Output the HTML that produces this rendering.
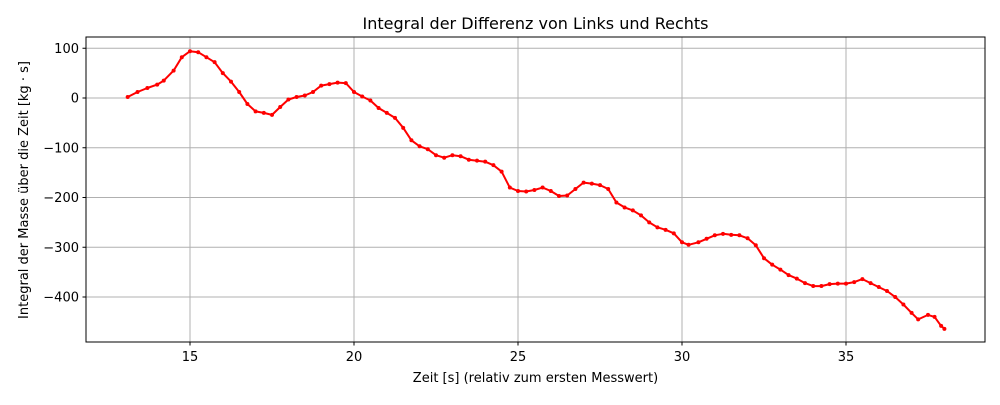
<!DOCTYPE html>
<html><head><meta charset="utf-8"><style>
body{margin:0;background:#fff}
svg text{font-family:"DejaVu Sans","Liberation Sans",sans-serif;fill:#000}
</style></head><body>
<svg id="chart" width="1000" height="400" xmlns="http://www.w3.org/2000/svg">
<rect width="1000" height="400" fill="#fff"/>
<g id="grid"></g>
<g id="series"></g>
<rect x="86" y="37" width="899" height="305" fill="none" stroke="#000" stroke-width="1"/>
<g id="xticks"></g>
<g id="yticks"></g>
<text x="535.5" y="29" font-size="16" text-anchor="middle">Integral der Differenz von Links und Rechts</text>
<text x="535.5" y="382" font-size="13" text-anchor="middle">Zeit [s] (relativ zum ersten Messwert)</text>
<text transform="translate(28,190) rotate(-90)" font-size="13" text-anchor="middle">Integral der Masse über die Zeit [kg · s]</text>
</svg>
<script>
const xTicks=[15,20,25,30,35];
const yTicks=[100,0,-100,-200,-300,-400];
const tVals=[13.1,13.4,13.7,14.0,14.2,14.5,14.75,15.0,15.25,15.5,15.75,16.0,16.25,16.5,16.75,17.0,17.25,17.5,17.75,18.0,18.25,18.5,18.75,19.0,19.25,19.5,19.75,20.0,20.25,20.5,20.75,21.0,21.25,21.5,21.75,22.0,22.25,22.5,22.75,23.0,23.25,23.5,23.75,24.0,24.25,24.5,24.75,25.0,25.25,25.5,25.75,26.0,26.25,26.5,26.75,27.0,27.25,27.5,27.75,28.0,28.25,28.5,28.75,29.0,29.25,29.5,29.75,30.0,30.2,30.5,30.75,31.0,31.25,31.5,31.75,32.0,32.25,32.5,32.75,33.0,33.25,33.5,33.75,34.0,34.25,34.5,34.75,35.0,35.25,35.5,35.75,36.0,36.25,36.5,36.75,37.0,37.2,37.5,37.7,37.9,38.0];
const yVals=[2,12,20,27,35,55,82,94,92,82,72,50,33,12,-12,-27,-30,-34,-18,-3,2,5,12,25,28,31,30,12,3,-5,-20,-30,-40,-60,-85,-97,-103,-115,-120,-115,-117,-124,-126,-128,-135,-148,-180,-187,-188,-185,-180,-187,-197,-196,-183,-170,-172,-175,-183,-210,-220,-226,-236,-250,-260,-265,-272,-290,-295,-290,-283,-276,-273,-275,-276,-282,-296,-322,-335,-345,-356,-363,-372,-378,-378,-374,-373,-373,-370,-364,-372,-380,-388,-400,-415,-432,-445,-436,-440,-458,-464];
const X=t=>190+(t-15)*32.8;
const Y=v=>98-v*0.4975;
const NS='http://www.w3.org/2000/svg';
function mk(tag,at,parent){const e=document.createElementNS(NS,tag);for(const k in at)e.setAttribute(k,at[k]);parent.appendChild(e);return e;}
const grid=document.getElementById('grid'),xt=document.getElementById('xticks'),yt=document.getElementById('yticks'),ser=document.getElementById('series');
xTicks.forEach(t=>{
 const l=mk('line',{x1:X(t),x2:X(t),y1:37,y2:342,stroke:'#b0b0b0','stroke-width':1},grid);
 
 
 mk('line',{x1:X(t),x2:X(t),y1:342,y2:345.5,stroke:'#000'},xt);
 const tx=mk('text',{x:X(t),y:361,'font-size':13,'text-anchor':'middle'},xt);
 tx.textContent=t;
 
 
});
yTicks.forEach(v=>{
 const l=mk('line',{x1:86,x2:985,y1:Y(v),y2:Y(v),stroke:'#b0b0b0','stroke-width':1},grid);
 
 
 mk('line',{x1:82.5,x2:86,y1:Y(v),y2:Y(v),stroke:'#000'},yt);
 const tx=mk('text',{x:79,y:Y(v)+4.5,'font-size':13,'text-anchor':'end'},yt);
 tx.textContent=v<0?'\u2212'+(-v):String(v);
 
 
});
const pts=tVals.map((t,i)=>X(t).toFixed(1)+','+Y(yVals[i]).toFixed(1)).join(' ');
const pl=mk('polyline',{points:pts,fill:'none',stroke:'#ff0000','stroke-width':2,'stroke-linejoin':'round'},ser);


tVals.forEach((t,i)=>{
 const c=mk('circle',{cx:X(t),cy:Y(yVals[i]),r:2,fill:'#ff0000'},ser);
 
 
});
</script>
</body></html>
